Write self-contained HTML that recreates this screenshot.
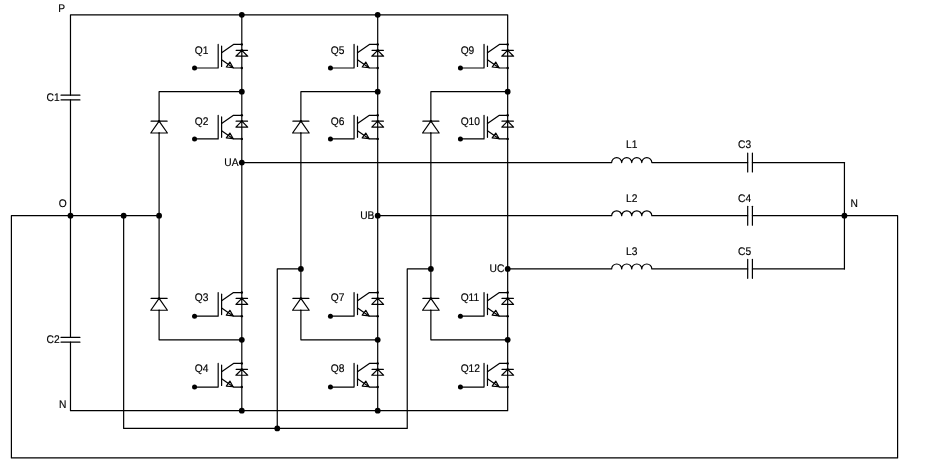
<!DOCTYPE html>
<html><head><meta charset="utf-8"><title>Three-level NPC inverter</title>
<style>
html,body{margin:0;padding:0;background:#fff;}
svg{display:block;}
svg line,svg path{stroke:#000;stroke-width:1.2;fill:none;stroke-linecap:round;stroke-linejoin:round;}
svg path.n{stroke-width:1.2;}
svg circle{fill:#000;stroke:none;}
svg g.t{filter:grayscale(1);}
svg text{font-family:"Liberation Sans",sans-serif;font-size:11px;fill:#000;stroke:#000;stroke-width:0.18px;text-rendering:geometricPrecision;}
</style></head><body>
<svg width="926" height="469" viewBox="0 0 926 469">
<rect x="0" y="0" width="926" height="469" fill="#fff"/>
<g>
<path d="M70.48 95.2 L70.48 14.85 L507.67 14.85 L507.67 410.69 L70.48 410.69 L70.48 342.15"/>
<line x1="70.48" y1="99.92" x2="70.48" y2="337.43"/>
<line x1="61.03" y1="95.2" x2="79.93" y2="95.2"/>
<line x1="61.03" y1="99.92" x2="79.93" y2="99.92"/>
<line x1="61.03" y1="337.43" x2="79.93" y2="337.43"/>
<line x1="61.03" y1="342.15" x2="79.93" y2="342.15"/>
<line x1="241.81" y1="14.85" x2="241.81" y2="410.69"/>
<line x1="377.7" y1="14.85" x2="377.7" y2="410.69"/>
<path d="M159.1 215.72 L11.4 215.72 L11.4 457.95 L897.6 457.95 L897.6 215.72 L844.43 215.72"/>
<path d="M123.65 215.72 L123.65 428.41 L407.24 428.41 L407.24 268.89 L430.87 268.89"/>
<path d="M277.26 428.41 L277.26 268.89 L300.89 268.89"/>
<path d="M241.81 91.65 L159.1 91.65 L159.1 121.19"/>
<line x1="159.1" y1="133.01" x2="159.1" y2="298.43"/>
<path d="M159.1 310.25 L159.1 339.79 L241.81 339.79"/>
<line x1="151.1" y1="121.19" x2="167.1" y2="121.19"/>
<circle cx="159.1" cy="121.19" r="1.2"/>
<circle cx="159.1" cy="133.01" r="0.7"/>
<path class="n" d="M159.1 121.19 L167.4 133.01 L150.8 133.01 Z"/>
<line x1="151.1" y1="298.43" x2="167.1" y2="298.43"/>
<circle cx="159.1" cy="298.43" r="1.2"/>
<circle cx="159.1" cy="310.25" r="0.7"/>
<path class="n" d="M159.1 298.43 L167.4 310.25 L150.8 310.25 Z"/>
<circle cx="241.81" cy="91.65" r="2.9"/>
<circle cx="241.81" cy="339.79" r="2.9"/>
<path d="M377.7 91.65 L300.89 91.65 L300.89 121.19"/>
<line x1="300.89" y1="133.01" x2="300.89" y2="298.43"/>
<path d="M300.89 310.25 L300.89 339.79 L377.7 339.79"/>
<line x1="292.89" y1="121.19" x2="308.89" y2="121.19"/>
<circle cx="300.89" cy="121.19" r="1.2"/>
<circle cx="300.89" cy="133.01" r="0.7"/>
<path class="n" d="M300.89 121.19 L309.19 133.01 L292.59 133.01 Z"/>
<line x1="292.89" y1="298.43" x2="308.89" y2="298.43"/>
<circle cx="300.89" cy="298.43" r="1.2"/>
<circle cx="300.89" cy="310.25" r="0.7"/>
<path class="n" d="M300.89 298.43 L309.19 310.25 L292.59 310.25 Z"/>
<circle cx="377.7" cy="91.65" r="2.9"/>
<circle cx="377.7" cy="339.79" r="2.9"/>
<path d="M507.67 91.65 L430.87 91.65 L430.87 121.19"/>
<line x1="430.87" y1="133.01" x2="430.87" y2="298.43"/>
<path d="M430.87 310.25 L430.87 339.79 L507.67 339.79"/>
<line x1="422.87" y1="121.19" x2="438.87" y2="121.19"/>
<circle cx="430.87" cy="121.19" r="1.2"/>
<circle cx="430.87" cy="133.01" r="0.7"/>
<path class="n" d="M430.87 121.19 L439.17 133.01 L422.57 133.01 Z"/>
<line x1="422.87" y1="298.43" x2="438.87" y2="298.43"/>
<circle cx="430.87" cy="298.43" r="1.2"/>
<circle cx="430.87" cy="310.25" r="0.7"/>
<path class="n" d="M430.87 298.43 L439.17 310.25 L422.57 310.25 Z"/>
<circle cx="507.67" cy="91.65" r="2.9"/>
<circle cx="507.67" cy="339.79" r="2.9"/>
<path d="M241.81 162.55 L611.65 162.55 A5.02 4.9 0 0 1 621.7 162.55 A5.02 4.9 0 0 1 631.74 162.55 A5.02 4.9 0 0 1 641.78 162.55 A5.02 4.9 0 0 1 651.83 162.55 L747.69 162.55"/>
<line x1="747.69" y1="153.1" x2="747.69" y2="172"/>
<line x1="752.41" y1="153.1" x2="752.41" y2="172"/>
<line x1="752.41" y1="162.55" x2="844.43" y2="162.55"/>
<circle cx="241.81" cy="162.55" r="2.9"/>
<path d="M377.7 215.72 L611.65 215.72 A5.02 4.9 0 0 1 621.7 215.72 A5.02 4.9 0 0 1 631.74 215.72 A5.02 4.9 0 0 1 641.78 215.72 A5.02 4.9 0 0 1 651.83 215.72 L747.69 215.72"/>
<line x1="747.69" y1="206.27" x2="747.69" y2="225.17"/>
<line x1="752.41" y1="206.27" x2="752.41" y2="225.17"/>
<line x1="752.41" y1="215.72" x2="844.43" y2="215.72"/>
<circle cx="377.7" cy="215.72" r="2.9"/>
<path d="M507.67 268.89 L611.65 268.89 A5.02 4.9 0 0 1 621.7 268.89 A5.02 4.9 0 0 1 631.74 268.89 A5.02 4.9 0 0 1 641.78 268.89 A5.02 4.9 0 0 1 651.83 268.89 L747.69 268.89"/>
<line x1="747.69" y1="259.44" x2="747.69" y2="278.34"/>
<line x1="752.41" y1="259.44" x2="752.41" y2="278.34"/>
<line x1="752.41" y1="268.89" x2="844.43" y2="268.89"/>
<circle cx="507.67" cy="268.89" r="2.9"/>
<line x1="844.43" y1="162.55" x2="844.43" y2="268.89"/>
<circle cx="844.43" cy="215.72" r="2.9"/>
<circle cx="241.81" cy="14.85" r="2.9"/>
<circle cx="377.7" cy="14.85" r="2.9"/>
<circle cx="241.81" cy="410.69" r="2.9"/>
<circle cx="377.7" cy="410.69" r="2.9"/>
<circle cx="70.48" cy="215.72" r="2.9"/>
<circle cx="123.65" cy="215.72" r="2.9"/>
<circle cx="159.1" cy="215.72" r="2.9"/>
<circle cx="277.26" cy="428.41" r="2.9"/>
<circle cx="300.89" cy="268.89" r="2.9"/>
<circle cx="430.87" cy="268.89" r="2.9"/>
<path d="M221.61 52.69 L233.51 44.39 L241.81 44.39"/>
<line x1="221.61" y1="45.99" x2="221.61" y2="66.39"/>
<path d="M194.55 68.02 L218.18 68.02 L218.18 44.39"/>
<path d="M221.61 59.79 L233.51 68.02 L241.81 68.02"/>
<path class="n" d="M233.11 67.72 L229.91 62.12 L226.31 67.02 Z"/>
<circle cx="194.55" cy="68.02" r="2.5"/>
<circle cx="241.81" cy="44.39" r="1.2"/>
<circle cx="241.81" cy="68.02" r="1.2"/>
<circle cx="241.81" cy="50.3" r="1.2"/>
<line x1="236.11" y1="50.3" x2="247.51" y2="50.3"/>
<path class="n" d="M241.81 50.3 L247.71 56.21 L235.91 56.21 Z"/>
<path d="M221.61 123.59 L233.51 115.29 L241.81 115.29"/>
<line x1="221.61" y1="116.89" x2="221.61" y2="137.29"/>
<path d="M194.55 138.92 L218.18 138.92 L218.18 115.29"/>
<path d="M221.61 130.69 L233.51 138.92 L241.81 138.92"/>
<path class="n" d="M233.11 138.62 L229.91 133.02 L226.31 137.92 Z"/>
<circle cx="194.55" cy="138.92" r="2.5"/>
<circle cx="241.81" cy="115.29" r="1.2"/>
<circle cx="241.81" cy="138.92" r="1.2"/>
<circle cx="241.81" cy="121.2" r="1.2"/>
<line x1="236.11" y1="121.2" x2="247.51" y2="121.2"/>
<path class="n" d="M241.81 121.2 L247.71 127.11 L235.91 127.11 Z"/>
<path d="M221.61 300.83 L233.51 292.53 L241.81 292.53"/>
<line x1="221.61" y1="294.13" x2="221.61" y2="314.53"/>
<path d="M194.55 316.16 L218.18 316.16 L218.18 292.53"/>
<path d="M221.61 307.93 L233.51 316.16 L241.81 316.16"/>
<path class="n" d="M233.11 315.86 L229.91 310.26 L226.31 315.16 Z"/>
<circle cx="194.55" cy="316.16" r="2.5"/>
<circle cx="241.81" cy="292.53" r="1.2"/>
<circle cx="241.81" cy="316.16" r="1.2"/>
<circle cx="241.81" cy="298.44" r="1.2"/>
<line x1="236.11" y1="298.44" x2="247.51" y2="298.44"/>
<path class="n" d="M241.81 298.44 L247.71 304.35 L235.91 304.35 Z"/>
<path d="M221.61 371.72 L233.51 363.42 L241.81 363.42"/>
<line x1="221.61" y1="365.02" x2="221.61" y2="385.42"/>
<path d="M194.55 387.05 L218.18 387.05 L218.18 363.42"/>
<path d="M221.61 378.82 L233.51 387.05 L241.81 387.05"/>
<path class="n" d="M233.11 386.75 L229.91 381.15 L226.31 386.05 Z"/>
<circle cx="194.55" cy="387.05" r="2.5"/>
<circle cx="241.81" cy="363.42" r="1.2"/>
<circle cx="241.81" cy="387.05" r="1.2"/>
<circle cx="241.81" cy="369.33" r="1.2"/>
<line x1="236.11" y1="369.33" x2="247.51" y2="369.33"/>
<path class="n" d="M241.81 369.33 L247.71 375.24 L235.91 375.24 Z"/>
<path d="M357.5 52.69 L369.4 44.39 L377.7 44.39"/>
<line x1="357.5" y1="45.99" x2="357.5" y2="66.39"/>
<path d="M330.44 68.02 L354.07 68.02 L354.07 44.39"/>
<path d="M357.5 59.79 L369.4 68.02 L377.7 68.02"/>
<path class="n" d="M369 67.72 L365.8 62.12 L362.2 67.02 Z"/>
<circle cx="330.44" cy="68.02" r="2.5"/>
<circle cx="377.7" cy="44.39" r="1.2"/>
<circle cx="377.7" cy="68.02" r="1.2"/>
<circle cx="377.7" cy="50.3" r="1.2"/>
<line x1="372" y1="50.3" x2="383.4" y2="50.3"/>
<path class="n" d="M377.7 50.3 L383.6 56.21 L371.8 56.21 Z"/>
<path d="M357.5 123.59 L369.4 115.29 L377.7 115.29"/>
<line x1="357.5" y1="116.89" x2="357.5" y2="137.29"/>
<path d="M330.44 138.92 L354.07 138.92 L354.07 115.29"/>
<path d="M357.5 130.69 L369.4 138.92 L377.7 138.92"/>
<path class="n" d="M369 138.62 L365.8 133.02 L362.2 137.92 Z"/>
<circle cx="330.44" cy="138.92" r="2.5"/>
<circle cx="377.7" cy="115.29" r="1.2"/>
<circle cx="377.7" cy="138.92" r="1.2"/>
<circle cx="377.7" cy="121.2" r="1.2"/>
<line x1="372" y1="121.2" x2="383.4" y2="121.2"/>
<path class="n" d="M377.7 121.2 L383.6 127.11 L371.8 127.11 Z"/>
<path d="M357.5 300.83 L369.4 292.53 L377.7 292.53"/>
<line x1="357.5" y1="294.13" x2="357.5" y2="314.53"/>
<path d="M330.44 316.16 L354.07 316.16 L354.07 292.53"/>
<path d="M357.5 307.93 L369.4 316.16 L377.7 316.16"/>
<path class="n" d="M369 315.86 L365.8 310.26 L362.2 315.16 Z"/>
<circle cx="330.44" cy="316.16" r="2.5"/>
<circle cx="377.7" cy="292.53" r="1.2"/>
<circle cx="377.7" cy="316.16" r="1.2"/>
<circle cx="377.7" cy="298.44" r="1.2"/>
<line x1="372" y1="298.44" x2="383.4" y2="298.44"/>
<path class="n" d="M377.7 298.44 L383.6 304.35 L371.8 304.35 Z"/>
<path d="M357.5 371.72 L369.4 363.42 L377.7 363.42"/>
<line x1="357.5" y1="365.02" x2="357.5" y2="385.42"/>
<path d="M330.44 387.05 L354.07 387.05 L354.07 363.42"/>
<path d="M357.5 378.82 L369.4 387.05 L377.7 387.05"/>
<path class="n" d="M369 386.75 L365.8 381.15 L362.2 386.05 Z"/>
<circle cx="330.44" cy="387.05" r="2.5"/>
<circle cx="377.7" cy="363.42" r="1.2"/>
<circle cx="377.7" cy="387.05" r="1.2"/>
<circle cx="377.7" cy="369.33" r="1.2"/>
<line x1="372" y1="369.33" x2="383.4" y2="369.33"/>
<path class="n" d="M377.7 369.33 L383.6 375.24 L371.8 375.24 Z"/>
<path d="M487.47 52.69 L499.37 44.39 L507.67 44.39"/>
<line x1="487.47" y1="45.99" x2="487.47" y2="66.39"/>
<path d="M460.41 68.02 L484.04 68.02 L484.04 44.39"/>
<path d="M487.47 59.79 L499.37 68.02 L507.67 68.02"/>
<path class="n" d="M498.97 67.72 L495.77 62.12 L492.17 67.02 Z"/>
<circle cx="460.41" cy="68.02" r="2.5"/>
<circle cx="507.67" cy="44.39" r="1.2"/>
<circle cx="507.67" cy="68.02" r="1.2"/>
<circle cx="507.67" cy="50.3" r="1.2"/>
<line x1="501.97" y1="50.3" x2="513.37" y2="50.3"/>
<path class="n" d="M507.67 50.3 L513.57 56.21 L501.77 56.21 Z"/>
<path d="M487.47 123.59 L499.37 115.29 L507.67 115.29"/>
<line x1="487.47" y1="116.89" x2="487.47" y2="137.29"/>
<path d="M460.41 138.92 L484.04 138.92 L484.04 115.29"/>
<path d="M487.47 130.69 L499.37 138.92 L507.67 138.92"/>
<path class="n" d="M498.97 138.62 L495.77 133.02 L492.17 137.92 Z"/>
<circle cx="460.41" cy="138.92" r="2.5"/>
<circle cx="507.67" cy="115.29" r="1.2"/>
<circle cx="507.67" cy="138.92" r="1.2"/>
<circle cx="507.67" cy="121.2" r="1.2"/>
<line x1="501.97" y1="121.2" x2="513.37" y2="121.2"/>
<path class="n" d="M507.67 121.2 L513.57 127.11 L501.77 127.11 Z"/>
<path d="M487.47 300.83 L499.37 292.53 L507.67 292.53"/>
<line x1="487.47" y1="294.13" x2="487.47" y2="314.53"/>
<path d="M460.41 316.16 L484.04 316.16 L484.04 292.53"/>
<path d="M487.47 307.93 L499.37 316.16 L507.67 316.16"/>
<path class="n" d="M498.97 315.86 L495.77 310.26 L492.17 315.16 Z"/>
<circle cx="460.41" cy="316.16" r="2.5"/>
<circle cx="507.67" cy="292.53" r="1.2"/>
<circle cx="507.67" cy="316.16" r="1.2"/>
<circle cx="507.67" cy="298.44" r="1.2"/>
<line x1="501.97" y1="298.44" x2="513.37" y2="298.44"/>
<path class="n" d="M507.67 298.44 L513.57 304.35 L501.77 304.35 Z"/>
<path d="M487.47 371.72 L499.37 363.42 L507.67 363.42"/>
<line x1="487.47" y1="365.02" x2="487.47" y2="385.42"/>
<path d="M460.41 387.05 L484.04 387.05 L484.04 363.42"/>
<path d="M487.47 378.82 L499.37 387.05 L507.67 387.05"/>
<path class="n" d="M498.97 386.75 L495.77 381.15 L492.17 386.05 Z"/>
<circle cx="460.41" cy="387.05" r="2.5"/>
<circle cx="507.67" cy="363.42" r="1.2"/>
<circle cx="507.67" cy="387.05" r="1.2"/>
<circle cx="507.67" cy="369.33" r="1.2"/>
<line x1="501.97" y1="369.33" x2="513.37" y2="369.33"/>
<path class="n" d="M507.67 369.33 L513.57 375.24 L501.77 375.24 Z"/>
</g>
<g class="t">
<text transform="translate(238.51 166.15) scale(0.93 1)" text-anchor="end">UA</text>
<text transform="translate(631.74 148.25) scale(0.93 1)" text-anchor="middle">L1</text>
<text transform="translate(738 148.25) scale(0.93 1)">C3</text>
<text transform="translate(374.4 219.32) scale(0.93 1)" text-anchor="end">UB</text>
<text transform="translate(631.74 201.82) scale(0.93 1)" text-anchor="middle">L2</text>
<text transform="translate(738 201.82) scale(0.93 1)">C4</text>
<text transform="translate(504.37 272.49) scale(0.93 1)" text-anchor="end">UC</text>
<text transform="translate(631.74 254.59) scale(0.93 1)" text-anchor="middle">L3</text>
<text transform="translate(738 254.59) scale(0.93 1)">C5</text>
<text transform="translate(194.8 54.49) scale(0.93 1)">Q1</text>
<text transform="translate(194.8 125.19) scale(0.93 1)">Q2</text>
<text transform="translate(194.8 301.43) scale(0.93 1)">Q3</text>
<text transform="translate(194.8 372.42) scale(0.93 1)">Q4</text>
<text transform="translate(330.69 54.49) scale(0.93 1)">Q5</text>
<text transform="translate(330.69 125.19) scale(0.93 1)">Q6</text>
<text transform="translate(330.69 301.43) scale(0.93 1)">Q7</text>
<text transform="translate(330.69 372.42) scale(0.93 1)">Q8</text>
<text transform="translate(460.66 54.49) scale(0.93 1)">Q9</text>
<text transform="translate(460.66 125.19) scale(0.93 1)">Q10</text>
<text transform="translate(460.66 301.43) scale(0.93 1)">Q11</text>
<text transform="translate(460.66 372.42) scale(0.93 1)">Q12</text>
<text transform="translate(58.2 12.2) scale(0.93 1)">P</text>
<text transform="translate(58.7 207.4) scale(0.93 1)">O</text>
<text transform="translate(59 408) scale(0.93 1)">N</text>
<text transform="translate(850.4 207.2) scale(0.93 1)">N</text>
<text transform="translate(46.6 101) scale(0.93 1)">C1</text>
<text transform="translate(46.6 342.8) scale(0.93 1)">C2</text>
</g>
</svg>
</body></html>
